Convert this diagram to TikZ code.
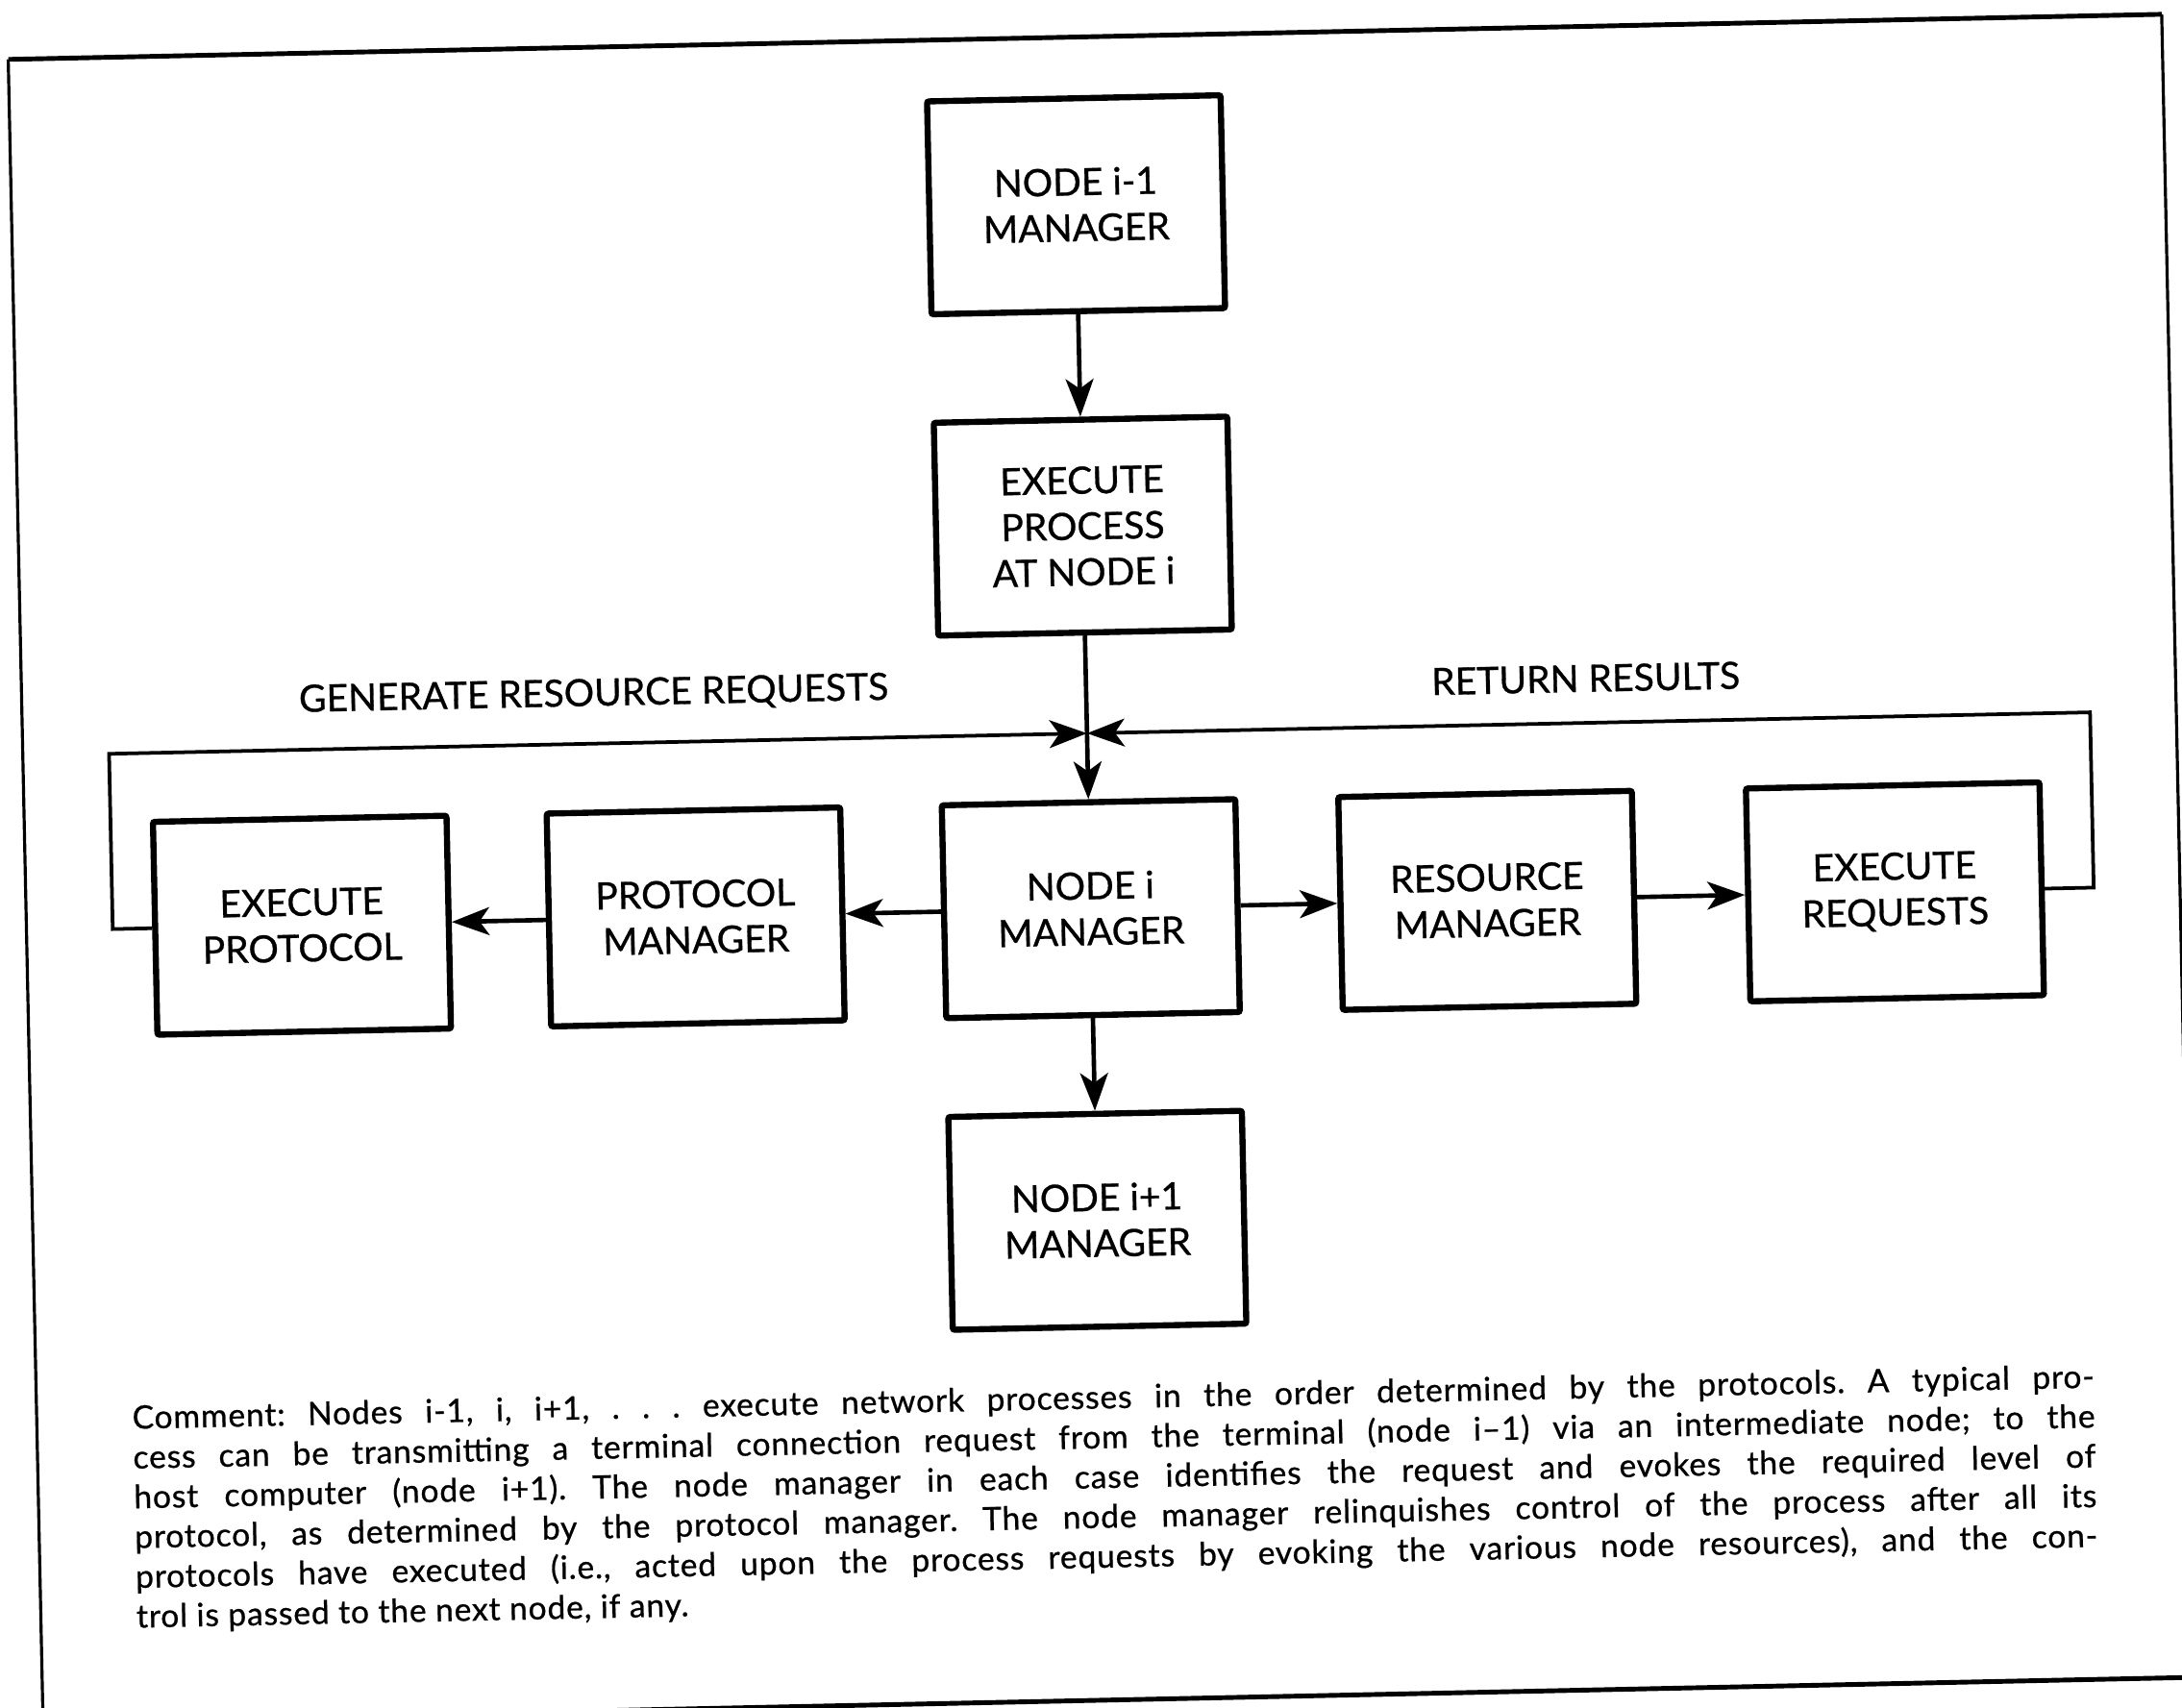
\documentclass[tikz,border=0pt]{standalone}
\usepackage{fontspec}
\setmainfont{Lato}[FakeBold=0.7]
\newfontfamily\notefont{Lato}[FakeBold=0.7, LetterSpace=2.5]
\usetikzlibrary{arrows.meta}
% one justified line of the comment, spread to the full measure
\newcommand\cmtline[1]{\makebox[1410pt][s]{#1}}
\begin{document}
\frenchspacing
\begin{tikzpicture}[x=1pt, y=-1pt,
  blk/.style={draw, line width=4.4pt, rounded corners=1.5pt,
    minimum width=211pt, minimum height=153pt, inner sep=0pt,
    align=center, font=\fontsize{27}{33}\selectfont},
  tipd/.style={-{Stealth[length=27pt,width=20pt,inset=7pt]}},
  flow/.style={line width=3.2pt},
  loopline/.style={line width=2.6pt},
  lbl/.style={inner sep=0pt, font=\fontsize{27}{30}\selectfont},
  cmt/.style={inner sep=0pt, align=left, font=\notefont\fontsize{23.2}{28.6}\selectfont},
  framethin/.style={line width=2.2pt},
  framethick/.style={line width=3.4pt},
]
\clip (0,0) rectangle (1568,1227);
\fill[white] (0,0) rectangle (1568,1227);
\begin{scope}[rotate around={1.2:(784,613)}, transform shape]
  % outer frame
  \coordinate (ftl) at (18,26.5);
  \coordinate (ftr) at (1566,26.5);
  \coordinate (fbl) at (18,1300);
  \coordinate (fbr) at (1566,1300);
  \coordinate (bl) at (0,1222);
  \coordinate (br) at (1620,1222);
  \draw[framethick] (ftl) -- (ftr);
  \draw[framethin] (ftl) -- (fbl);
  \draw[framethin] (ftr) -- (fbr);
  \draw[framethick] (bl) -- (br);

  % blocks
  \node[blk] (nim1)  at (783,147)  {NODE i-1\\MANAGER};
  \node[blk] (proc)  at (783,378)  {EXECUTE\\PROCESS\\AT NODE i};
  \node[blk] (nodei) at (783,653)  {NODE i\\MANAGER};
  \node[blk] (nip1)  at (783,877)  {NODE i+1\\MANAGER};
  \node[blk] (pman)  at (499,653)  {PROTOCOL\\MANAGER};
  \node[blk] (eprot) at (216,653)  {EXECUTE\\PROTOCOL};
  \node[blk] (rman)  at (1068,653) {RESOURCE\\MANAGER};
  \node[blk] (ereq)  at (1361,653) {EXECUTE\\REQUESTS};

  % junction above node i and the two feedback loops
  \coordinate (junc) at (783,527);
  \coordinate (lc1) at (80,653);
  \coordinate (lc2) at (80,527);
  \coordinate (rc1) at (1504,653);
  \coordinate (rc2) at (1504,527);

  \draw[flow,tipd] (nim1) -- (proc);
  \draw[flow] (proc) -- (junc);
  \draw[flow,tipd] (junc) -- (nodei);
  \draw[flow,tipd] (nodei) -- (nip1);
  \draw[flow,tipd] (nodei) -- (pman);
  \draw[flow,tipd] (pman) -- (eprot);
  \draw[flow,tipd] (nodei) -- (rman);
  \draw[flow,tipd] (rman) -- (ereq);
  \draw[loopline,tipd] (eprot.west) -- (lc1) -- (lc2) -- (junc);
  \draw[loopline,tipd] (ereq.east) -- (rc1) -- (rc2) -- (junc);

  \node[lbl] (gen) at (429,492) {GENERATE RESOURCE REQUESTS};
  \node[lbl] (ret) at (1142,495) {RETURN RESULTS};

  % explanatory note
  \node[cmt, anchor=north west] (note) at (86.5,995) {%
    \cmtline{Comment: Nodes i-1, i, i+1, . . . execute network processes in the order determined by the protocols. A typical pro-}\\
    \cmtline{cess can be transmitting a terminal connection request from the terminal (node i–1) via an intermediate node; to the}\\
    \cmtline{host computer (node i+1). The node manager in each case identifies the request and evokes the required level of}\\
    \cmtline{protocol, as determined by the protocol manager. The node manager relinquishes control of the process after all its}\\
    \cmtline{protocols have executed (i.e., acted upon the process requests by evoking the various node resources), and the con-}\\
    trol is passed to the next node, if any.};
\end{scope}
\end{tikzpicture}
\end{document}
